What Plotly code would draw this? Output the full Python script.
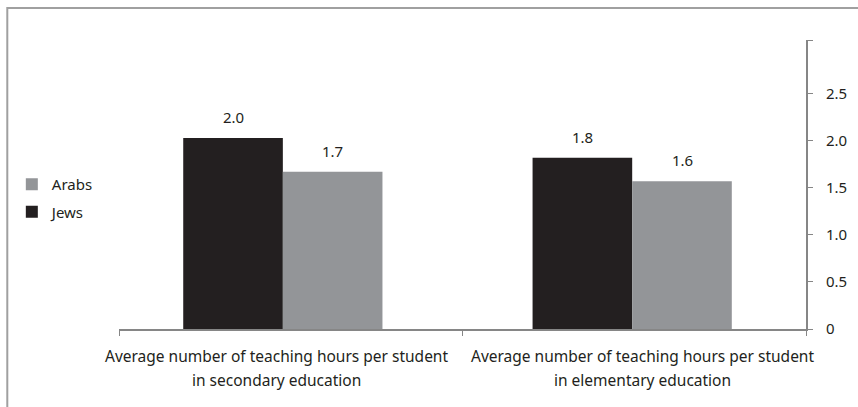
import plotly.graph_objects as go

categories = ["secondary", "elementary"]
label_line1 = ["Average number of teaching hours per student",
               "Average number of teaching hours per student"]
label_line2 = ["in secondary education", "in elementary education"]
jews = [2.03, 1.82]
arabs = [1.67, 1.57]
y_ticks = [0, 0.5, 1.0, 1.5, 2.0, 2.5, 3.07]
y_labels = ["0", "0.5", "1.0", "1.5", "2.0", "2.5", ""]

font = dict(family="Noto Sans", size=15, color="#231f20")
axis_grey = "#868686"

# bar placement inside each category (category units), as laid out in the original
bar_w = 0.29
jews_off = [-0.313, -0.296]
arabs_off = [o + bar_w for o in jews_off]

fig = go.Figure()
fig.add_trace(go.Bar(x=categories, y=jews, name="Jews", legendgroup="jews", legendrank=2,
                     width=bar_w, offset=jews_off, marker=dict(color="#231f20", line=dict(width=0))))
fig.add_trace(go.Bar(x=categories, y=arabs, name="Arabs", legendgroup="arabs", legendrank=1,
                     width=bar_w, offset=arabs_off, marker=dict(color="#939598", line=dict(width=0))))

# value labels above bars
for offs, vals in [(jews_off, jews), (arabs_off, arabs)]:
    for i, v in enumerate(vals):
        fig.add_annotation(x=i + offs[i] + bar_w / 2, y=v, text=f"{v:.1f}", showarrow=False,
                           yanchor="bottom", yshift=9, font=font)

# category labels, pushed apart a little like the original
lab_font = dict(family="Noto Sans", size=15.5, color="#231f20")
for i, shift in zip(range(len(categories)), [-14, 8]):
    fig.add_annotation(x=i, y=0, yref="paper", text=label_line1[i], showarrow=False, xshift=shift,
                       yanchor="middle", yshift=-27, font=lab_font)
    fig.add_annotation(x=i, y=0, yref="paper", text=label_line2[i], showarrow=False, xshift=shift,
                       yanchor="middle", yshift=-51, font=lab_font)

fig.update_layout(
    width=858, height=407,
    margin=dict(l=117, r=52, t=40, b=78),
    paper_bgcolor="white", plot_bgcolor="white",
    font=font,
    barmode="overlay",
    showlegend=True,
    legend=dict(x=-0.156, y=0.453, xanchor="left", yanchor="middle", traceorder="grouped",
                font=font, itemwidth=30, tracegroupgap=5, bgcolor="rgba(0,0,0,0)"),
    xaxis=dict(showline=True, linecolor=axis_grey, linewidth=2, ticks="outside", tickson="boundaries",
               tickcolor=axis_grey, ticklen=5, showgrid=False, showticklabels=False,
               automargin=False, range=[-0.5, 1.5]),
    yaxis=dict(side="right", range=[0, 3.07], tickvals=y_ticks, ticktext=y_labels, showline=True,
               linecolor=axis_grey, linewidth=2, ticks="outside", tickcolor=axis_grey, ticklen=5,
               showgrid=False, zeroline=False, ticklabelstandoff=10, automargin=False),
    shapes=[dict(type="rect", xref="paper", yref="paper", x0=-0.1626, x1=1.1, y0=-0.35, y1=1.1107,
                 line=dict(color="#a0a0a0", width=2))],
)

fig.write_html("out.html", config={"displayModeBar": False},
               post_script="document.body.style.margin='0px';")
